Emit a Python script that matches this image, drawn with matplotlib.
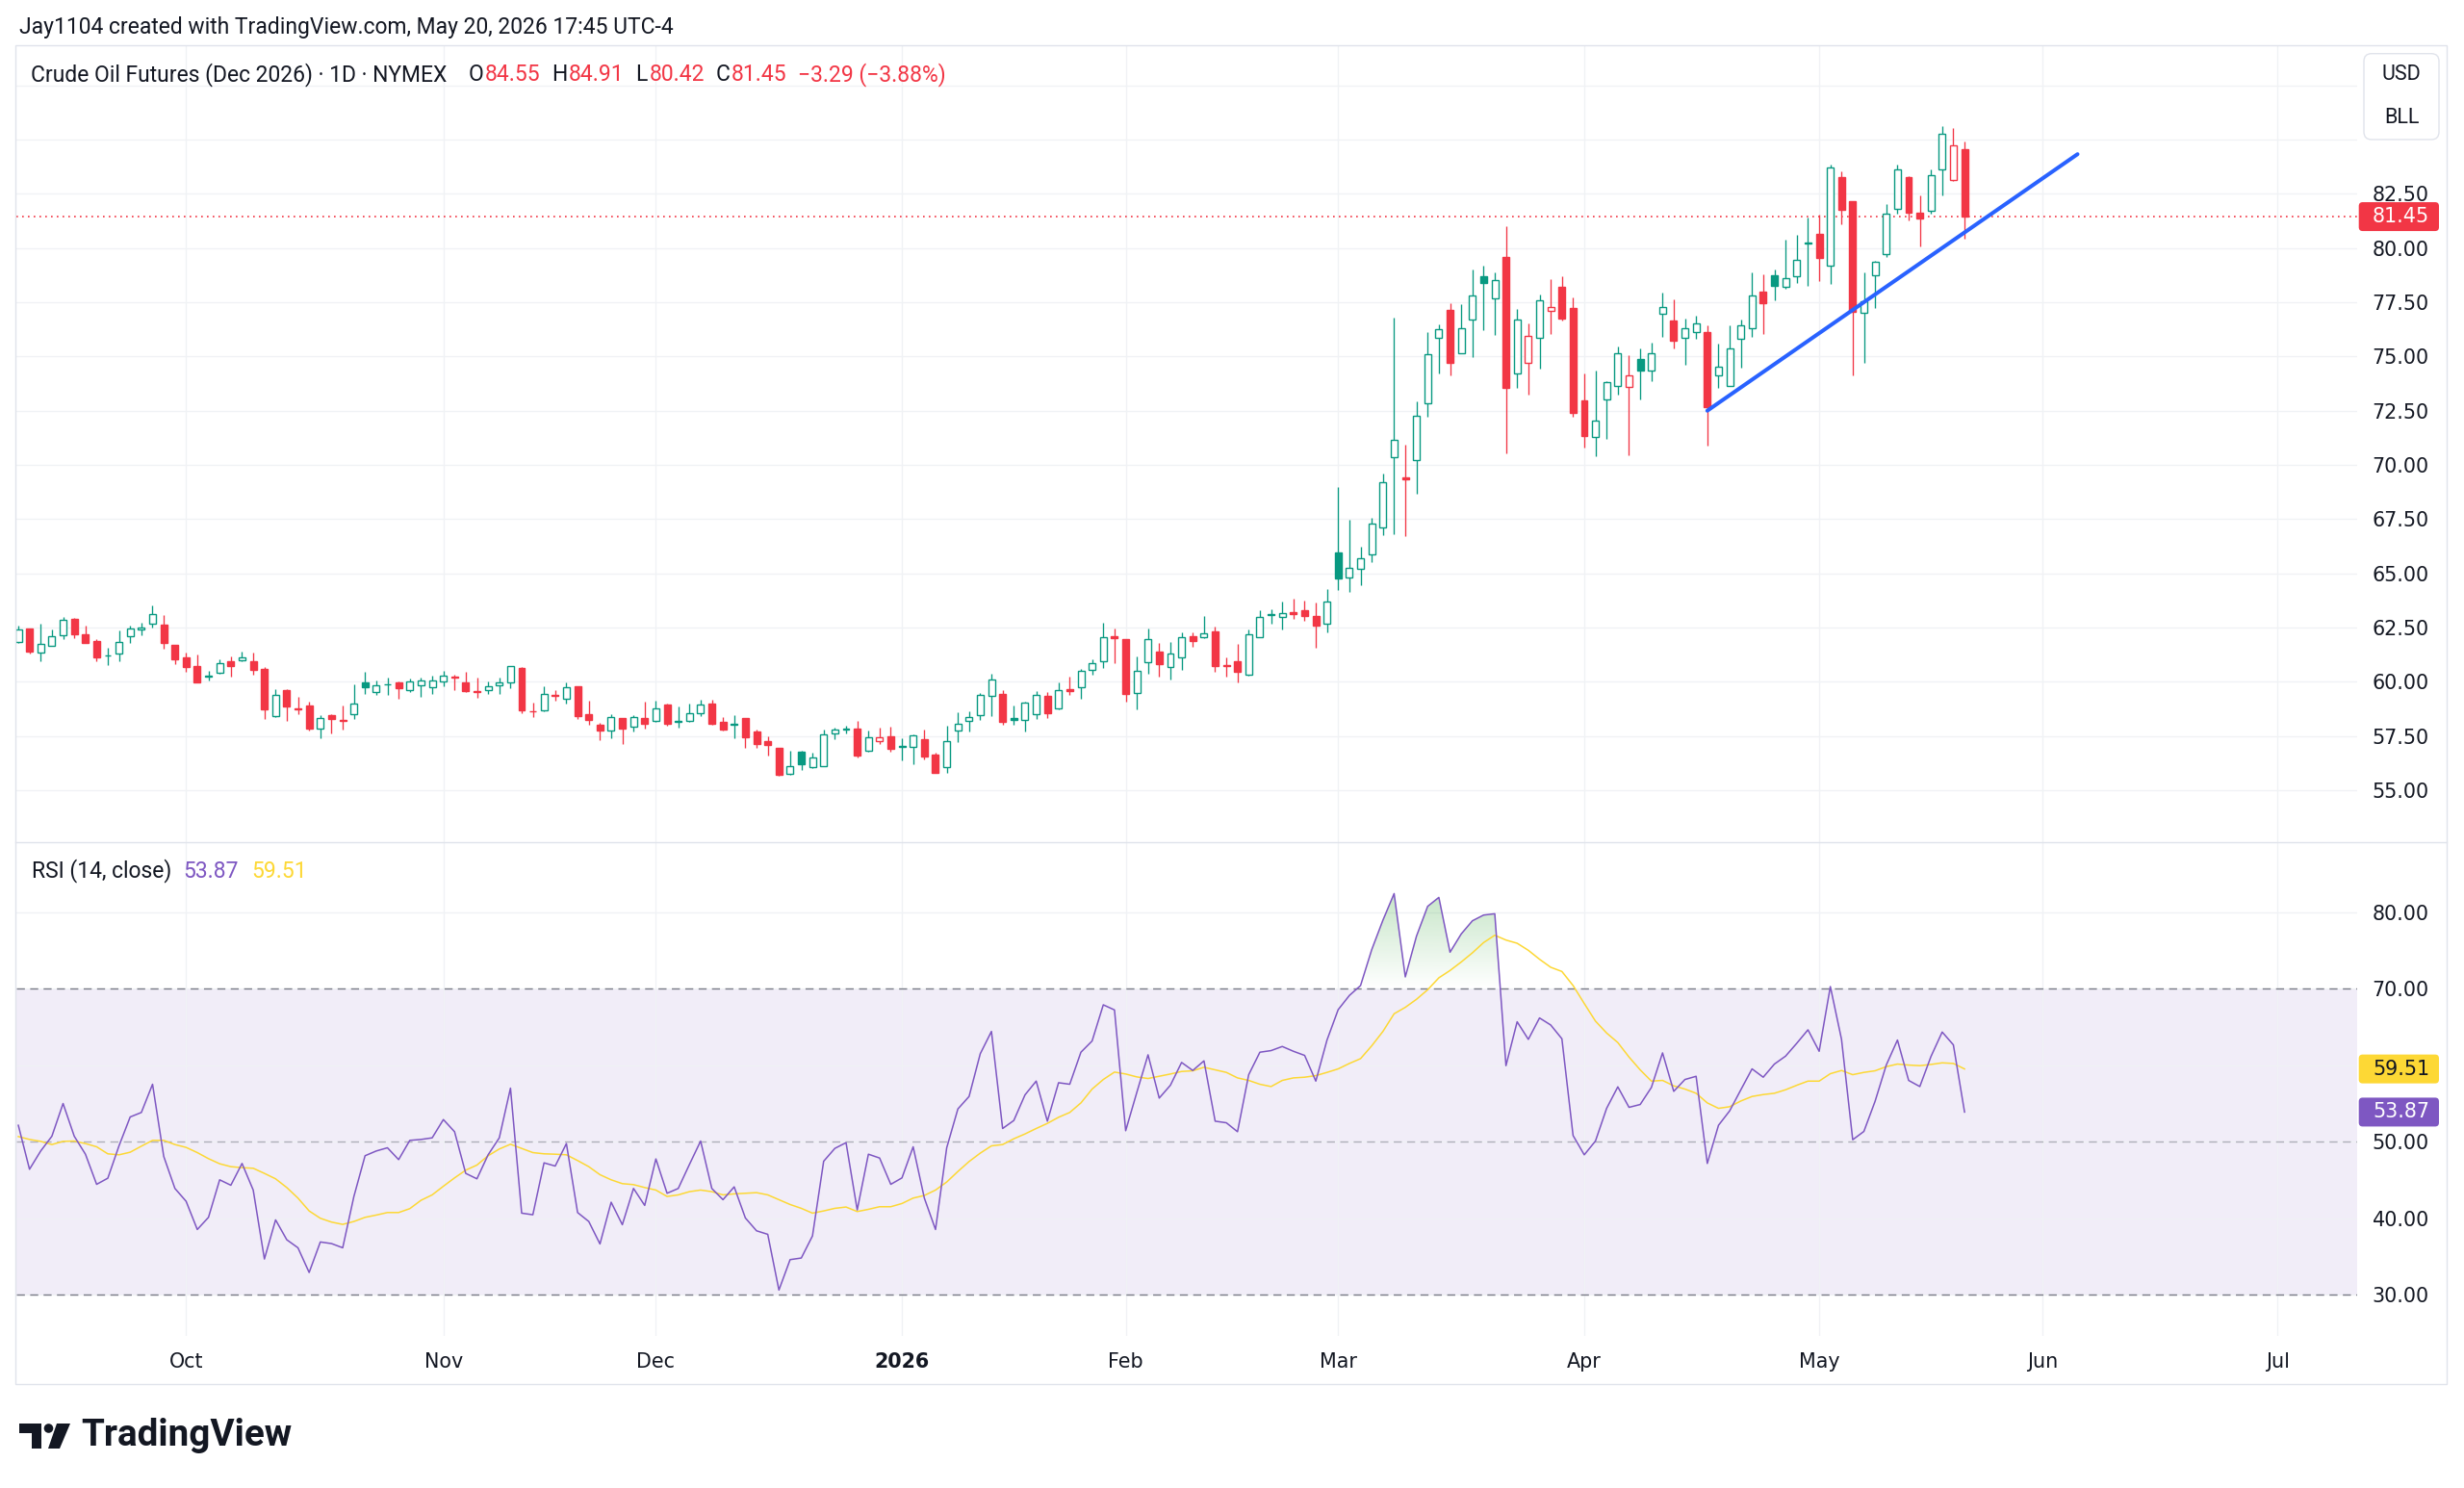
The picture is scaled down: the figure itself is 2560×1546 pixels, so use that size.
import numpy as np
import pandas as pd
import matplotlib
matplotlib.use("Agg")
import matplotlib.pyplot as plt
from matplotlib.patches import FancyBboxPatch, Rectangle, Circle, Polygon
from matplotlib.path import Path
from matplotlib.lines import Line2D
from matplotlib.transforms import IdentityTransform

# ---------------- data ----------------
opens = [61.85, 62.44, 61.33, 61.66, 62.14, 62.88, 62.2, 61.86, 61.2, 61.3,
         62.1, 62.4, 62.69, 62.65, 61.7, 61.11, 60.71, 60.25, 60.4, 60.93,
         60.99, 60.93, 60.59, 58.4, 59.6, 58.77, 58.89, 57.86, 58.48, 58.22,
         58.52, 59.96, 59.54, 59.9, 59.99, 59.63, 59.85, 59.76, 60.0, 60.24,
         59.96, 59.58, 59.6, 59.84, 59.96, 60.64, 58.65, 58.67, 59.38, 59.22,
         59.78, 58.52, 58.03, 57.77, 58.33, 57.94, 58.33, 58.18, 58.97, 58.15,
         58.18, 58.56, 59.0, 58.14, 58.02, 58.33, 57.71, 57.27, 56.93, 55.74,
         56.78, 56.08, 56.11, 57.62, 57.8, 57.85, 56.82, 57.26, 57.49, 56.98,
         57.01, 57.37, 56.63, 56.05, 57.74, 58.2, 58.45, 59.33, 59.44, 58.32,
         58.25, 58.52, 59.33, 58.77, 59.64, 59.75, 60.55, 60.96, 62.1, 61.95,
         59.48, 60.92, 61.38, 60.67, 61.14, 62.12, 62.04, 62.32, 60.79, 60.93,
         60.33, 62.07, 63.06, 62.98, 63.2, 63.32, 63.02, 62.66, 65.98, 64.8,
         65.2, 65.87, 67.12, 70.37, 69.42, 70.23, 72.82, 75.88, 77.15, 75.17,
         76.69, 78.71, 77.68, 79.6, 74.22, 74.69, 75.88, 77.09, 78.21, 77.23,
         72.98, 71.3, 73.0, 73.66, 73.59, 74.87, 74.35, 76.98, 76.64, 75.85,
         76.14, 76.11, 74.13, 73.65, 75.8, 76.32, 77.97, 78.76, 78.2, 78.71,
         80.22, 80.64, 79.19, 83.27, 82.16, 77.01, 78.74, 79.72, 81.79, 83.27,
         81.64, 81.7, 83.62, 83.12, 84.55]
highs = [62.59, 62.47, 62.66, 62.41, 63.0, 62.94, 62.59, 61.95, 61.58, 62.35,
         62.59, 62.74, 63.54, 63.06, 61.72, 61.33, 61.26, 60.52, 61.02, 61.18,
         61.41, 61.33, 60.67, 59.66, 59.66, 59.29, 59.08, 58.45, 58.52, 58.89,
         59.88, 60.47, 60.04, 60.18, 60.0, 60.15, 60.18, 60.3, 60.52, 60.34,
         60.44, 60.19, 60.0, 60.19, 60.72, 60.66, 59.04, 59.8, 59.63, 59.96,
         59.8, 59.11, 58.12, 58.5, 58.35, 58.48, 59.08, 59.11, 59.0, 58.87,
         59.0, 59.19, 59.19, 58.37, 58.45, 58.34, 57.81, 57.49, 56.93, 56.82,
         56.83, 56.72, 57.79, 57.87, 57.97, 58.2, 57.75, 57.88, 57.93, 57.41,
         57.59, 57.78, 56.75, 57.97, 58.59, 58.64, 59.48, 60.37, 59.63, 58.89,
         59.07, 59.59, 59.51, 59.96, 60.22, 60.59, 61.04, 62.74, 62.47, 61.96,
         61.15, 62.44, 61.78, 61.82, 62.29, 62.29, 63.03, 62.56, 61.11, 61.73,
         62.41, 63.28, 63.33, 63.72, 63.84, 63.76, 63.64, 64.28, 68.96, 67.46,
         66.23, 67.57, 69.6, 76.79, 70.93, 72.95, 76.13, 76.5, 77.47, 77.43,
         79.0, 79.2, 78.9, 81.0, 77.2, 76.54, 77.87, 78.56, 78.68, 77.72,
         74.22, 74.37, 73.88, 75.48, 75.06, 75.36, 75.65, 77.94, 77.62, 76.76,
         76.86, 76.42, 75.61, 76.42, 76.72, 78.89, 78.79, 79.0, 80.37, 80.6,
         81.41, 81.52, 83.86, 83.55, 82.17, 78.86, 79.42, 82.04, 83.85, 83.33,
         82.44, 83.62, 85.62, 85.52, 84.91]
lows = [61.8, 61.32, 60.96, 61.64, 61.97, 61.99, 61.77, 60.96, 60.77, 60.93,
        61.8, 62.14, 62.49, 61.52, 60.81, 60.44, 59.97, 60.04, 60.37, 60.25,
        60.93, 60.34, 58.3, 58.38, 58.18, 58.52, 57.74, 57.38, 57.63, 57.78,
        58.27, 59.45, 59.41, 59.41, 59.23, 59.51, 59.3, 59.45, 59.78, 59.6,
        59.53, 59.26, 59.45, 59.45, 59.7, 58.56, 58.37, 58.66, 59.11, 58.98,
        58.3, 58.03, 57.29, 57.38, 57.14, 57.71, 57.86, 58.14, 57.97, 57.9,
        58.14, 58.42, 58.0, 57.76, 57.4, 56.97, 56.97, 56.6, 55.67, 55.7,
        55.94, 56.03, 56.1, 57.35, 57.62, 56.52, 56.79, 57.14, 56.79, 56.38,
        56.18, 56.41, 55.78, 55.81, 57.23, 57.71, 58.22, 58.4, 58.0, 58.03,
        57.71, 58.3, 58.34, 58.74, 59.41, 59.22, 60.34, 60.62, 60.84, 59.07,
        58.74, 60.37, 60.25, 60.1, 60.56, 61.63, 62.03, 60.44, 60.25, 59.96,
        60.3, 62.05, 62.66, 62.43, 62.88, 62.8, 61.58, 62.29, 64.24, 64.16,
        64.46, 65.54, 66.76, 66.79, 66.72, 68.67, 72.21, 74.22, 74.15, 75.16,
        74.99, 76.21, 75.98, 70.53, 73.56, 73.25, 74.43, 76.02, 76.64, 72.21,
        70.82, 70.41, 71.18, 73.22, 70.45, 73.04, 73.88, 75.9, 75.36, 74.62,
        75.83, 70.87, 73.54, 73.64, 74.5, 75.9, 76.05, 77.6, 78.12, 78.37,
        78.24, 78.49, 78.34, 81.11, 74.13, 74.72, 77.23, 79.6, 81.6, 81.26,
        80.09, 81.6, 82.44, 83.1, 80.42]
closes = [62.4, 61.41, 61.76, 62.12, 62.84, 62.2, 61.8, 61.14, 61.22, 61.85,
          62.44, 62.51, 63.12, 61.78, 61.02, 60.7, 59.99, 60.27, 60.84, 60.74,
          61.14, 60.55, 58.74, 59.41, 58.86, 58.74, 57.86, 58.34, 58.3, 58.2,
          59.01, 59.73, 59.84, 59.86, 59.7, 60.03, 60.06, 60.08, 60.3, 60.2,
          59.56, 59.54, 59.78, 59.99, 60.71, 58.67, 58.62, 59.45, 59.36, 59.76,
          58.42, 58.23, 57.74, 58.36, 57.86, 58.39, 58.04, 58.77, 58.08, 58.2,
          58.56, 58.95, 58.06, 57.8, 58.06, 57.42, 57.15, 57.07, 55.71, 56.12,
          56.2, 56.53, 57.57, 57.8, 57.83, 56.6, 57.46, 57.44, 56.89, 57.04,
          57.53, 56.55, 55.81, 57.26, 58.08, 58.37, 59.38, 60.12, 58.15, 58.26,
          59.04, 59.41, 58.57, 59.6, 59.57, 60.49, 60.84, 62.07, 62.03, 59.44,
          60.52, 61.97, 60.81, 61.29, 62.07, 61.89, 62.25, 60.74, 60.72, 60.47,
          62.19, 62.99, 63.11, 63.17, 63.14, 63.05, 62.58, 63.69, 64.75, 65.24,
          65.68, 67.28, 69.2, 71.15, 69.32, 72.26, 75.11, 76.26, 74.72, 76.29,
          77.82, 78.39, 78.53, 73.56, 76.69, 75.95, 77.6, 77.29, 76.76, 72.4,
          71.33, 72.03, 73.81, 75.14, 74.15, 74.37, 75.17, 77.28, 75.73, 76.32,
          76.54, 72.65, 74.53, 75.36, 76.45, 77.83, 77.46, 78.27, 78.61, 79.45,
          80.27, 79.53, 83.7, 81.75, 77.06, 77.53, 79.35, 81.57, 83.62, 81.64,
          81.35, 83.37, 85.27, 84.74, 81.45]
rsi = [52.14, 46.39, 48.78, 50.71, 54.99, 50.71, 48.36, 44.42, 45.22, 49.45,
       53.23, 53.82, 57.51, 48.07, 43.88, 42.2, 38.51, 40.1, 45.01, 44.3,
       47.15, 43.67, 34.65, 39.77, 37.17, 36.12, 32.89, 36.88, 36.67, 36.12,
       42.83, 48.16, 48.78, 49.2, 47.65, 50.17, 50.29, 50.5, 52.89, 51.3,
       45.85, 45.14, 48.28, 50.5, 57.0, 40.65, 40.44, 47.23, 46.81, 49.75,
       40.73, 39.56, 36.62, 42.08, 39.14, 43.88, 41.66, 47.74, 43.25, 43.88,
       47.02, 50.08, 43.88, 42.41, 44.09, 40.02, 38.34, 37.88, 30.59, 34.57,
       34.78, 37.67, 47.44, 49.12, 49.87, 41.07, 48.36, 47.86, 44.42, 45.26,
       49.33, 42.62, 38.51, 49.2, 54.28, 55.91, 61.5, 64.42, 51.72, 52.77,
       56.12, 57.92, 52.68, 57.71, 57.51, 61.7, 63.17, 67.9, 67.23, 51.43,
       56.46, 61.36, 55.7, 57.38, 60.36, 59.31, 60.57, 52.68, 52.47, 51.3,
       58.76, 61.7, 61.91, 62.45, 61.82, 61.28, 57.92, 63.29, 67.27, 69.12,
       70.42, 75.12, 78.97, 82.45, 71.55, 76.88, 80.78, 81.95, 74.78, 77.17,
       78.89, 79.64, 79.81, 59.94, 65.68, 63.38, 66.18, 65.26, 63.46, 50.8,
       48.28, 50.08, 54.36, 57.17, 54.49, 54.86, 57.09, 61.61, 56.58, 58.13,
       58.55, 47.15, 52.14, 54.03, 56.79, 59.52, 58.43, 60.15, 61.19, 62.87,
       64.63, 61.82, 70.29, 63.38, 50.25, 51.34, 55.28, 60.02, 63.29, 58.01,
       57.21, 61.15, 64.34, 62.66, 53.87]
rsi_ma = [50.67, 50.29, 50.04, 49.62, 50.04, 50.08, 49.75, 49.33, 48.41, 48.28,
          48.62, 49.41, 50.17, 50.17, 49.62, 49.25, 48.57, 47.78, 47.11, 46.73,
          46.6, 46.52, 45.85, 45.14, 44.0, 42.62, 40.94, 39.98, 39.48, 39.18,
          39.56, 40.1, 40.4, 40.73, 40.73, 41.24, 42.33, 43.04, 44.17, 45.26,
          46.27, 46.94, 48.16, 49.04, 49.66, 49.12, 48.57, 48.41, 48.36, 48.28,
          47.53, 46.73, 45.68, 45.01, 44.51, 44.38, 44.0, 43.67, 42.83, 43.04,
          43.46, 43.67, 43.46, 43.04, 43.17, 43.25, 43.33, 43.04, 42.41, 41.78,
          41.28, 40.65, 40.94, 41.28, 41.45, 40.86, 41.15, 41.49, 41.49, 41.91,
          42.62, 42.96, 43.67, 44.72, 46.1, 47.4, 48.5, 49.45, 49.62, 50.38,
          51.01, 51.72, 52.39, 53.19, 53.82, 55.07, 56.88, 58.13, 59.1, 58.85,
          58.47, 58.26, 58.55, 58.85, 59.18, 59.27, 59.73, 59.4, 59.06, 58.34,
          58.01, 57.51, 57.21, 58.01, 58.34, 58.43, 58.64, 59.06, 59.52, 60.23,
          60.86, 62.54, 64.42, 66.73, 67.57, 68.62, 69.87, 71.43, 72.39, 73.5,
          74.7, 76.04, 77.0, 76.37, 75.95, 75.03, 73.86, 72.81, 72.26, 70.42,
          68.07, 65.77, 64.21, 62.96, 61.07, 59.39, 57.92, 58.01, 57.3, 56.88,
          56.33, 55.07, 54.36, 54.57, 55.32, 55.91, 56.16, 56.33, 56.79, 57.38,
          57.92, 57.92, 58.89, 59.31, 58.76, 59.06, 59.27, 59.81, 60.15, 60.02,
          59.94, 60.1, 60.31, 60.23, 59.51]

month_labels = ["Oct", "Nov", "Dec", "2026", "Feb", "Mar", "Apr", "May", "Jun", "Jul"]
holidays = ["2025-11-27", "2025-12-25", "2026-01-01", "2026-01-19", "2026-02-16",
            "2026-04-03", "2026-05-25", "2026-06-19", "2026-07-03"]
first_day, last_axis_day = "2025-09-10", "2026-07-31"

# trend line drawn on the chart (bar index, price)
trend_x = [151, 184.1]
trend_y = [72.5, 84.33]

price_ticks = np.arange(55, 87.6, 2.5)
price_label_max = 82.5          # higher labels sit under the USD/BLL box
rsi_ticks = [30, 40, 50, 60, 70, 80]

# ---------------- styling ----------------
W, H = 2560, 1546
UP, DOWN = "#089981", "#F23645"
RSI_C, MA_C = "#7E57C2", "#FDD835"
TXT = "#131722"
GRID = "#F0F2F5"
FRAME = "#E0E3EB"
AX_FONT = "DejaVu Sans"
AX_FS = 14.9
UI_FONT = ["Roboto", "DejaVu Sans"]
UI_FS = 16.5

fig = plt.figure(figsize=(W / 100, H / 100), dpi=100)
fig.patch.set_facecolor("white")

LEFT, RIGHT = 17.3, 2449
P_TOP, P_BOT = 47.3, 874.6
R_TOP, R_BOT = 875.5, 1388

ax_p = fig.add_axes([LEFT / W, 1 - P_BOT / H, (RIGHT - LEFT) / W, (P_BOT - P_TOP) / H])
ax_r = fig.add_axes([LEFT / W, 1 - R_BOT / H, (RIGHT - LEFT) / W, (R_BOT - R_TOP) / H])

# trading-day index and month starts
days = pd.bdate_range(first_day, last_axis_day)
days = days[~days.isin(pd.to_datetime(holidays))]
month_pos = [k for k in range(1, len(days)) if days[k].month != days[k - 1].month]
month_pos = month_pos[:len(month_labels)]

n = len(closes)
x = np.arange(n)
o, hh, ll, c = map(np.array, (opens, highs, lows, closes))
XMIN, XMAX = -0.15, 209.1

for ax in (ax_p, ax_r):
    ax.set_xlim(XMIN, XMAX)
    for s in ax.spines.values():
        s.set_visible(False)
    ax.set_xticks(month_pos)
    ax.grid(True, axis="both", color=GRID, lw=1.0, zorder=0)
    ax.set_axisbelow(True)
    ax.yaxis.tick_right()
    ax.tick_params(axis="both", length=0, labelsize=AX_FS, labelcolor=TXT, pad=11.3)

# ---------------- price panel ----------------
ax_p.set_ylim(52.62, 89.34)
ax_p.set_yticks(price_ticks)
ax_p.set_yticklabels([f"{v:.2f}" if v <= price_label_max + 1e-9 else "" for v in price_ticks],
                     fontfamily=AX_FONT, fontsize=AX_FS, color=TXT)
ax_p.set_xticklabels([])

prev = np.r_[o[0], c[:-1]]
col = np.where(c >= prev, UP, DOWN)
hollow = c >= o
face = np.where(hollow, "white", col)
ax_p.vlines(x, ll, hh, colors=col, lw=0.95, zorder=2)
bottom = np.minimum(o, c)
height = np.maximum(np.abs(c - o), 0.02)
ax_p.bar(x, height, bottom=bottom, width=0.6, color=face, edgecolor=col, linewidth=1.0, zorder=3)

ax_p.axhline(c[-1], color=DOWN, lw=1.2, ls=(0, (1, 2.6)), zorder=2.5)
ax_p.plot(trend_x, trend_y, color="#2962FF", lw=2.9, solid_capstyle="round", zorder=4)

# ---------------- RSI panel ----------------
ax_r.set_ylim(24.59, 89.11)
ax_r.set_yticks(rsi_ticks)
ax_r.set_yticklabels([f"{v:.2f}" for v in rsi_ticks], fontfamily=AX_FONT, fontsize=AX_FS, color=TXT)
ax_r.set_xticklabels(month_labels, fontfamily=AX_FONT, fontsize=AX_FS, color=TXT)
for t in ax_r.get_xticklabels():
    if t.get_text() == "2026":
        t.set_fontweight("bold")
ax_r.tick_params(axis="x", pad=12)

ax_r.axhspan(30, 70, color=RSI_C, alpha=0.1, lw=0, zorder=0.5)
ax_r.axhline(70, color="#787B86", lw=1.0, ls=(0, (6, 4)), zorder=1)
ax_r.axhline(30, color="#787B86", lw=1.0, ls=(0, (6, 4)), zorder=1)
ax_r.axhline(50, color="#787B86", lw=1.0, ls=(0, (6, 4)), alpha=0.55, zorder=1)

rr = np.array(rsi)
poly = ax_r.fill_between(x, 70, rr, where=rr > 70, interpolate=True, facecolor="none", edgecolor="none")
paths = poly.get_paths()
if paths:
    cp = Path.make_compound_path(*paths)
    img = np.zeros((256, 1, 4))
    img[..., 0] = 76 / 255
    img[..., 1] = 175 / 255
    img[..., 2] = 80 / 255
    img[..., 3] = np.linspace(0.0, 0.32, 256)[:, None]
    im = ax_r.imshow(img, extent=[XMIN, XMAX, 70, 82.5], origin="lower", aspect="auto",
                     interpolation="bilinear", zorder=1.5)
    im.set_clip_path(cp, ax_r.transData)
    ax_r.set_xlim(XMIN, XMAX)
    ax_r.set_ylim(24.59, 89.11)

ax_r.plot(x, rsi_ma, color=MA_C, lw=1.1, zorder=2)
ax_r.plot(x, rsi, color=RSI_C, lw=1.1, zorder=3)

# ---------------- frame ----------------
ident = IdentityTransform()
fig.add_artist(Rectangle((16, H - 1438), 2526, 1438 - 47, fill=False, ec=FRAME, lw=1.0, transform=ident, zorder=0.5))
fig.add_artist(Line2D([16, 2542], [H - 875, H - 875], color=FRAME, lw=1.0, transform=ident, zorder=0.5))


def ftext(xpx, ypx, s, **kw):
    return fig.text(xpx / W, 1 - ypx / H, s, **kw)


# axis value labels
def value_label(ax, value, text, fc, tc):
    ydisp = ax.transData.transform((0, value))[1]
    fig.add_artist(FancyBboxPatch((2450.7, ydisp - 15), 83.3, 30,
                                  boxstyle="round,pad=0,rounding_size=4",
                                  fc=fc, ec="none", transform=ident, zorder=5))
    fig.text(2465 / W, ydisp / H, text, color=tc, fontsize=AX_FS, fontfamily=AX_FONT,
             va="center", ha="left", zorder=6)


value_label(ax_p, closes[-1], f"{closes[-1]:.2f}", DOWN, "white")
value_label(ax_r, rsi_ma[-1], f"{rsi_ma[-1]:.2f}", MA_C, TXT)
value_label(ax_r, rsi[-1], f"{rsi[-1]:.2f}", RSI_C, "white")

# USD / BLL box
fig.add_artist(FancyBboxPatch((2456, H - 145), 78, 89.3, boxstyle="round,pad=0,rounding_size=8",
                              fc="white", ec=FRAME, lw=1.0, transform=ident, zorder=5))
ftext(2495, 77.7, "USD", color=TXT, fontsize=15.5, fontfamily=UI_FONT, ha="center", va="center", zorder=6)
ftext(2495, 122.7, "BLL", color=TXT, fontsize=15.5, fontfamily=UI_FONT, ha="center", va="center", zorder=6)

# top watermark
ftext(19.6, 29, "Jay1104 created with TradingView.com, May 20, 2026 17:45 UTC-4",
      color=TXT, fontsize=UI_FS, fontfamily=UI_FONT, ha="left", va="center")

# header legend: title, then O/H/L/C values laid out one after another
renderer = fig.canvas.get_renderer()
ftext(31.6, 77.7, "Crude Oil Futures (Dec 2026) · 1D · NYMEX", color=TXT, fontsize=UI_FS,
      fontfamily=UI_FONT, ha="left", va="center")
hdr = [("O", TXT, 1.5), (f"{opens[-1]:.2f}", DOWN, 12.0),
       ("H", TXT, 1.5), (f"{highs[-1]:.2f}", DOWN, 12.0),
       ("L", TXT, 1.5), (f"{lows[-1]:.2f}", DOWN, 12.0),
       ("C", TXT, 1.5), (f"{closes[-1]:.2f}", DOWN, 11.0),
       ("\u22123.29 (\u22123.88%)", DOWN, 0.0)]
xcur = 486.2
for s, cc, gap in hdr:
    t = ftext(xcur, 77.7, s, color=cc, fontsize=UI_FS, fontfamily=UI_FONT, ha="left", va="center")
    xcur += t.get_window_extent(renderer).width + gap

# RSI legend
ftext(33.3, 905, "RSI (14, close)", color=TXT, fontsize=UI_FS, fontfamily=UI_FONT, ha="left", va="center")
ftext(190.7, 905, f"{rsi[-1]:.2f}", color=RSI_C, fontsize=UI_FS, fontfamily=UI_FONT, ha="left", va="center")
ftext(261.0, 905, f"{rsi_ma[-1]:.2f}", color=MA_C, fontsize=UI_FS, fontfamily=UI_FONT, ha="left", va="center")

# TradingView logo
def P(xp, yp):
    return (xp, H - yp)


fig.add_artist(Polygon([P(20, 1479), P(43, 1479), P(43, 1505), P(33, 1505), P(33, 1489), P(20, 1489)],
                       closed=True, fc=TXT, ec="none", transform=ident))
fig.add_artist(Circle(P(50.5, 1484), 4.8, fc=TXT, ec="none", transform=ident))
fig.add_artist(Polygon([P(59, 1479), P(73, 1479), P(62, 1505), P(50, 1505)],
                       closed=True, fc=TXT, ec="none", transform=ident))
ftext(84, 1492, "TradingView", color=TXT, fontsize=27.8, fontweight="bold", fontfamily=UI_FONT,
      ha="left", va="center")

fig.savefig("out.png", dpi=100, facecolor="white")
